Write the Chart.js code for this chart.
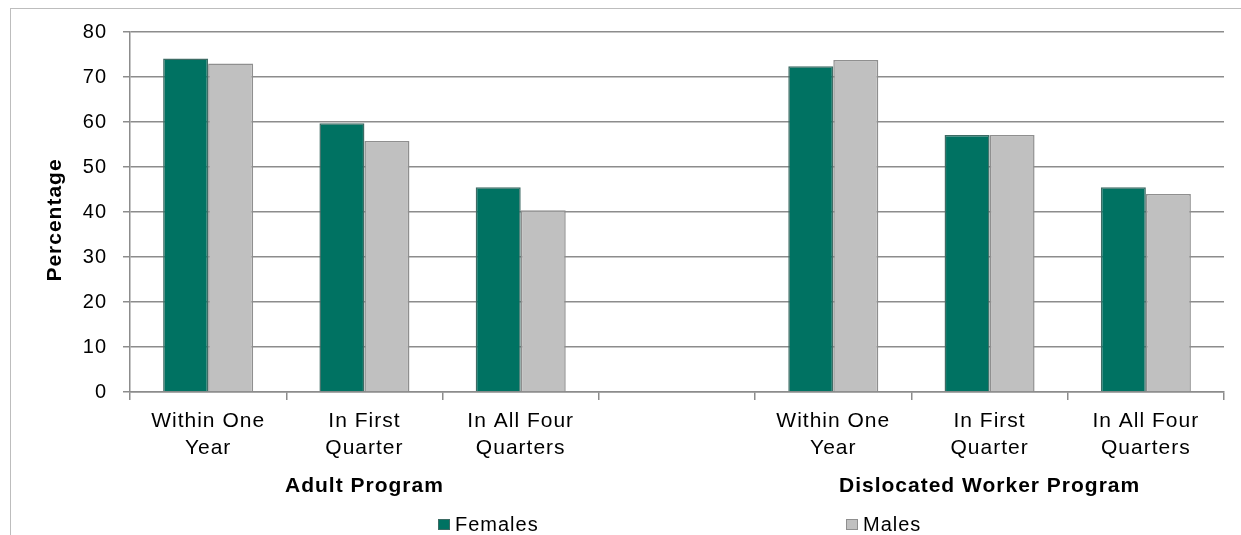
<!DOCTYPE html>
<html>
<head>
<meta charset="utf-8">
<script src="https://cdn.jsdelivr.net/npm/chart.js@4.4.1/dist/chart.umd.min.js"></script>
<style>
    html, body { margin: 0; padding: 0; background: #fff; overflow: hidden; }
    #frame {
        position: absolute; left: 10px; top: 8px; width: 1231px; height: 527px;
        border-left: 1px solid #bdbdbd; border-top: 1px solid #bdbdbd;
    }
    #wrap { position: absolute; left: 0; top: 0; width: 1241px; height: 535px; }
</style>
</head>
<body>
<div id="frame"></div>
<div id="wrap"><canvas id="chart" width="1241" height="535"></canvas></div>
<script>
// categories (the empty slot separates the two programs)
var categories = [
    ['Within One', 'Year'], ['In First', 'Quarter'], ['In All Four', 'Quarters'],
    '',
    ['Within One', 'Year'], ['In First', 'Quarter'], ['In All Four', 'Quarters']
];
var programs = ['Adult Program', 'Dislocated Worker Program'];
var programSlots = [[0, 2], [4, 6]];

var seriesLabels = ['Females', 'Males'];
var females = [74.1, 59.7, 45.5, null, 72.4, 57.1, 45.5];
var males = [73.0, 55.8, 40.4, null, 73.8, 57.1, 44.0];

var yMin = 0, yMax = 80, yStep = 10;
var yTitle = 'Percentage';

var FEMALE_COLOR = '#007262';
var MALE_COLOR = '#c0c0c0';
var GRID_COLOR = '#8c8c8c';

// letter spacing to mimic the wide rendering of the original
var spacingPlugin = {
    id: 'spacing',
    beforeUpdate: function (chart) { chart.ctx.letterSpacing = '1px'; },
    beforeDraw: function (chart) { chart.ctx.letterSpacing = '1px'; }
};

// group labels, y title and the spread-out legend
var extrasPlugin = {
    id: 'extras',
    afterDraw: function (chart) {
        var ctx = chart.ctx;
        var x = chart.scales.x;
        var area = chart.chartArea;
        ctx.save();
        ctx.fillStyle = '#000';
        ctx.textAlign = 'center';
        ctx.textBaseline = 'middle';
        ctx.font = 'bold 21px "Liberation Sans", Arial, sans-serif';
        programs.forEach(function (name, i) {
            var mid = (programSlots[i][0] + programSlots[i][1]) / 2;
            ctx.fillText(name, x.getPixelForValue(mid), 486);
        });

        ctx.save();
        ctx.translate(55, (area.top + area.bottom) / 2 + 8);
        ctx.rotate(-Math.PI / 2);
        ctx.fillText(yTitle, 0, 0);
        ctx.restore();

        // legend
        var center = (area.left + area.right) / 2;
        var legendX = [center - 239, center + 169];
        ctx.font = '20px "Liberation Sans", Arial, sans-serif';
        ctx.textAlign = 'left';
        chart.data.datasets.forEach(function (ds, i) {
            var lx = legendX[i];
            ctx.fillStyle = ds.backgroundColor;
            ctx.fillRect(lx, 519, 12, 11);
            ctx.strokeStyle = ds.borderColor;
            ctx.lineWidth = 1;
            ctx.strokeRect(lx + 0.5, 519.5, 11, 10);
            ctx.fillStyle = '#000';
            ctx.fillText(ds.label, lx + 17, 525);
        });
        ctx.restore();
    }
};

var ctx = document.getElementById('chart').getContext('2d');
new Chart(ctx, {
    type: 'bar',
    data: {
        labels: categories,
        datasets: [{
            label: seriesLabels[0],
            data: females,
            backgroundColor: FEMALE_COLOR,
            borderColor: '#3d6b64',
            borderWidth: 1.5,
            categoryPercentage: 0.576,
            barPercentage: 1.0
        }, {
            label: seriesLabels[1],
            data: males,
            backgroundColor: MALE_COLOR,
            borderColor: '#8f8f8f',
            borderWidth: 1.5,
            categoryPercentage: 0.576,
            barPercentage: 1.0
        }]
    },
    options: {
        responsive: false,
        animation: false,
        devicePixelRatio: 1,
        layout: { padding: { left: 0, top: 32, right: 17, bottom: 0 } },
        plugins: {
            legend: { display: false },
            title: { display: false },
            tooltip: { enabled: false }
        },
        scales: {
            x: {
                grid: {
                    offset: true,
                    drawOnChartArea: false,
                    tickLength: 8,
                    color: GRID_COLOR,
                    lineWidth: 1.5
                },
                border: { color: GRID_COLOR, width: 1.5 },
                ticks: {
                    color: '#000',
                    font: { family: '"Liberation Sans", Arial, sans-serif', size: 21, lineHeight: 1.28 },
                    padding: 8,
                    maxRotation: 0,
                    autoSkip: false
                },
                afterFit: function (scale) { scale.height = 143; }
            },
            y: {
                min: yMin,
                max: yMax,
                grid: { color: GRID_COLOR, lineWidth: 1.5, tickLength: 7 },
                border: { color: GRID_COLOR, width: 1.5 },
                ticks: {
                    stepSize: yStep,
                    color: '#000',
                    padding: 16,
                    font: { family: '"Liberation Sans", Arial, sans-serif', size: 20 }
                },
                afterFit: function (scale) { scale.width = 130; }
            }
        }
    },
    plugins: [spacingPlugin, extrasPlugin]
});
</script>
</body>
</html>
